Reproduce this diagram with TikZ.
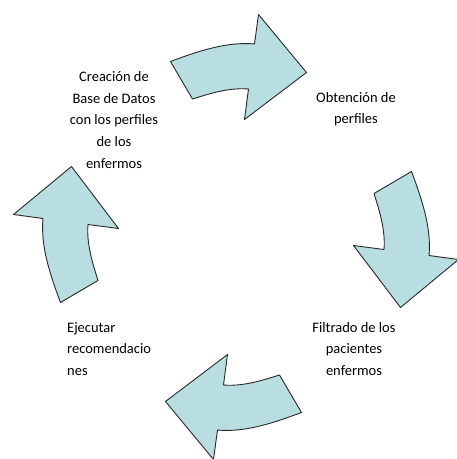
\documentclass[tikz,border=0pt]{standalone}
\usepackage{fontspec}
\setmainfont{Carlito}
\definecolor{arrowfill}{RGB}{184,222,226}
\definecolor{arrowline}{RGB}{40,40,40}
\tikzset{
  cyclearrow/.style={fill=arrowfill, draw=arrowline, line width=0.9pt, line join=round},
  lbl/.style={inner sep=0pt, font=\fontsize{14.5}{21.6}\selectfont, text=black}
}
\begin{document}
\begin{tikzpicture}[x=1pt,y=1pt]
\useasboundingbox (0,0) rectangle (457,459);
\coordinate (ctr) at (236,222);
\foreach \r in {0,-90,-180,-270}{
  \begin{scope}[shift={(ctr)}, rotate=\r]
    \path[cyclearrow] (-65.5,175.5) -- (-43.5,138)
      .. controls (-25.4,143.7) and (-6.4,149.6) .. (12.5,148)
      -- (8.5,117.5) -- (70.5,164.5) -- (22.5,222.5) -- (18.5,193)
      .. controls (-9.4,195.7) and (-39.3,185.3) .. cycle;
  \end{scope}
}
\node[lbl, align=center] (crea) at (114,339) {Creación de\\Base de Datos\\con los perfiles\\de los\\enfermos};
\node[lbl, align=center] (obt) at (356,350) {Obtención de\\perfiles};
\node[lbl, align=center] (filt) at (354,110) {Filtrado de los\\pacientes\\enfermos};
\node[lbl, align=left, anchor=west] (ejec) at (67,110) {Ejecutar\\recomendacio\\nes};
\end{tikzpicture}
\end{document}
